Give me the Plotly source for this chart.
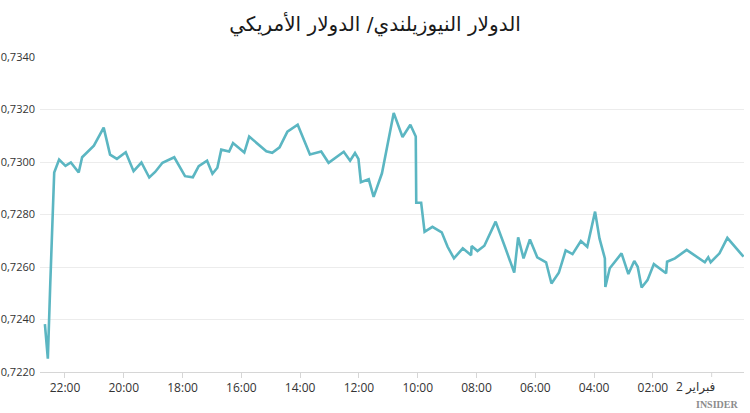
import plotly.graph_objects as go

# --- data ---
times = [
    "2021-02-02 22:41", "2021-02-02 22:35", "2021-02-02 22:30", "2021-02-02 22:24", "2021-02-02 22:22",
    "2021-02-02 22:12", "2021-02-02 21:59", "2021-02-02 21:48", "2021-02-02 21:32", "2021-02-02 21:25",
    "2021-02-02 21:01", "2021-02-02 20:41", "2021-02-02 20:28", "2021-02-02 20:14", "2021-02-02 19:56",
    "2021-02-02 19:40", "2021-02-02 19:24", "2021-02-02 19:08", "2021-02-02 18:56", "2021-02-02 18:41",
    "2021-02-02 18:17", "2021-02-02 17:55", "2021-02-02 17:39", "2021-02-02 17:27", "2021-02-02 17:10",
    "2021-02-02 16:59", "2021-02-02 16:49", "2021-02-02 16:41", "2021-02-02 16:25", "2021-02-02 16:17",
    "2021-02-02 15:54", "2021-02-02 15:44", "2021-02-02 15:09", "2021-02-02 14:57", "2021-02-02 14:42",
    "2021-02-02 14:26", "2021-02-02 14:05", "2021-02-02 13:40", "2021-02-02 13:17", "2021-02-02 13:02",
    "2021-02-02 12:31", "2021-02-02 12:18", "2021-02-02 12:08", "2021-02-02 12:01", "2021-02-02 11:56",
    "2021-02-02 11:40", "2021-02-02 11:30", "2021-02-02 11:13", "2021-02-02 10:49", "2021-02-02 10:31",
    "2021-02-02 10:15", "2021-02-02 10:04", "2021-02-02 10:03", "2021-02-02 09:53", "2021-02-02 09:46",
    "2021-02-02 09:30", "2021-02-02 09:11", "2021-02-02 08:59", "2021-02-02 08:46", "2021-02-02 08:28",
    "2021-02-02 08:11", "2021-02-02 08:10", "2021-02-02 07:58", "2021-02-02 07:44", "2021-02-02 07:21",
    "2021-02-02 07:02", "2021-02-02 06:43", "2021-02-02 06:35", "2021-02-02 06:24", "2021-02-02 06:11",
    "2021-02-02 05:56", "2021-02-02 05:38", "2021-02-02 05:27", "2021-02-02 05:12", "2021-02-02 04:58",
    "2021-02-02 04:44", "2021-02-02 04:27", "2021-02-02 04:14", "2021-02-02 03:58", "2021-02-02 03:49",
    "2021-02-02 03:38", "2021-02-02 03:37", "2021-02-02 03:28", "2021-02-02 03:04", "2021-02-02 02:50",
    "2021-02-02 02:38", "2021-02-02 02:31", "2021-02-02 02:23", "2021-02-02 02:11", "2021-02-02 01:58",
    "2021-02-02 01:33", "2021-02-02 01:31", "2021-02-02 01:15", "2021-02-02 00:51", "2021-02-02 00:14",
    "2021-02-02 00:07", "2021-02-02 00:02", "2021-02-01 23:44", "2021-02-01 23:28", "2021-02-01 22:55",
]
rates = [
    0.72382, 0.72251, 0.72539, 0.72836, 0.72960,
    0.73009, 0.72985, 0.72998, 0.72960, 0.73018,
    0.73062, 0.73131, 0.73028, 0.73012, 0.73037,
    0.72965, 0.72998, 0.72941, 0.72962, 0.72997,
    0.73018, 0.72946, 0.72942, 0.72984, 0.73005,
    0.72955, 0.72978, 0.73047, 0.73040, 0.73072,
    0.73036, 0.73097, 0.73041, 0.73035, 0.73056,
    0.73116, 0.73142, 0.73029, 0.73040, 0.72997,
    0.73039, 0.73005, 0.73034, 0.73012, 0.72923,
    0.72934, 0.72867, 0.72957, 0.73187, 0.73095,
    0.73142, 0.73097, 0.72845, 0.72845, 0.72734,
    0.72753, 0.72732, 0.72677, 0.72633, 0.72671,
    0.72645, 0.72680, 0.72661, 0.72681, 0.72773,
    0.72677, 0.72579, 0.72713, 0.72633, 0.72705,
    0.72637, 0.72618, 0.72537, 0.72578, 0.72663,
    0.72649, 0.72699, 0.72677, 0.72811, 0.72709,
    0.72633, 0.72524, 0.72595, 0.72652, 0.72573,
    0.72623, 0.72601, 0.72522, 0.72550, 0.72611,
    0.72576, 0.72620, 0.72633, 0.72665, 0.72618,
    0.72637, 0.72618, 0.72652, 0.72711, 0.72639,
]

x_tick_vals = [
    "2021-02-02 00:00", "2021-02-02 02:00", "2021-02-02 04:00", "2021-02-02 06:00",
    "2021-02-02 08:00", "2021-02-02 10:00", "2021-02-02 12:00", "2021-02-02 14:00",
    "2021-02-02 16:00", "2021-02-02 18:00", "2021-02-02 20:00", "2021-02-02 22:00",
]
x_tick_text = [
    "2 فبراير", "02:00", "04:00", "06:00", "08:00", "10:00",
    "12:00", "14:00", "16:00", "18:00", "20:00", "22:00",
]
y_tick_vals = [0.7220, 0.7240, 0.7260, 0.7280, 0.7300, 0.7320, 0.7340]
y_tick_text = ["0,7220", "0,7240", "0,7260", "0,7280", "0,7300", "0,7320", "0,7340"]

title_text = "الدولار النيوزيلندي/ الدولار الأمريكي"
x_range = ["2021-02-02 22:51", "2021-02-01 22:54"]
y_range = [0.7220, 0.7340]

fig = go.Figure()
fig.add_trace(go.Scatter(
    x=times, y=rates, mode="lines",
    line=dict(color="#5bb6c2", width=2.6),
    hoverinfo="x+y",
))

tick_font = dict(family="Open Sans, DejaVu Sans, sans-serif", size=12, color="#333333")

fig.update_layout(
    width=750, height=413,
    margin=dict(l=40, r=6, t=57, b=41, autoexpand=False),
    paper_bgcolor="white", plot_bgcolor="white",
    showlegend=False,
    font=dict(family="Open Sans, DejaVu Sans, sans-serif", size=12, color="#333333"),
    title=dict(
        text=title_text,
        font=dict(family="DejaVu Sans, sans-serif", size=20, color="#1a1a1a"),
        x=0.5, xanchor="center", xref="container",
        y=1 - 24 / 413, yanchor="middle", yref="container",
        automargin=False,
    ),
    xaxis=dict(
        type="date", range=x_range, automargin=False,
        tickmode="array", tickvals=x_tick_vals[1:], ticktext=x_tick_text[1:],
        showgrid=False, zeroline=False,
        showline=True, linecolor="#d6d6d6", linewidth=1,
        ticks="outside", ticklen=5, tickcolor="#d6d6d6",
        tickfont=tick_font,
    ),
    yaxis=dict(
        range=y_range, automargin=False,
        tickmode="array", tickvals=y_tick_vals, ticktext=y_tick_text,
        showgrid=True, gridcolor="#ececec", gridwidth=1,
        zeroline=False, showline=False, ticks="",
        ticklabelstandoff=4,
        tickfont=dict(family="Open Sans, sans-serif", size=11, color="#333333"),
    ),
    annotations=[
        dict(
            text=x_tick_text[0], xref="x", yref="paper", x=x_tick_vals[0], y=0,
            xanchor="right", yanchor="middle", xshift=5, yshift=-14,
            showarrow=False, font=tick_font,
        ),
        dict(
            text="<b>INSIDER</b>", xref="paper", yref="paper", x=1, y=0,
            xanchor="right", yanchor="middle", xshift=-4, yshift=-32,
            showarrow=False,
            font=dict(family="Liberation Serif, serif", size=10, color="#8c8c8c"),
        ),
    ],
)

# tick mark below the axis for the date tick (its label is drawn as an annotation)
fig.add_shape(type="line", xref="x", yref="paper",
              x0=x_tick_vals[0], x1=x_tick_vals[0], y0=0, y1=-5 / 315,
              line=dict(color="#d6d6d6", width=1))

fig.write_html(
    "out.html",
    config={"displayModeBar": False},
    post_script="document.body.style.margin='0';document.body.style.padding='0';",
)
